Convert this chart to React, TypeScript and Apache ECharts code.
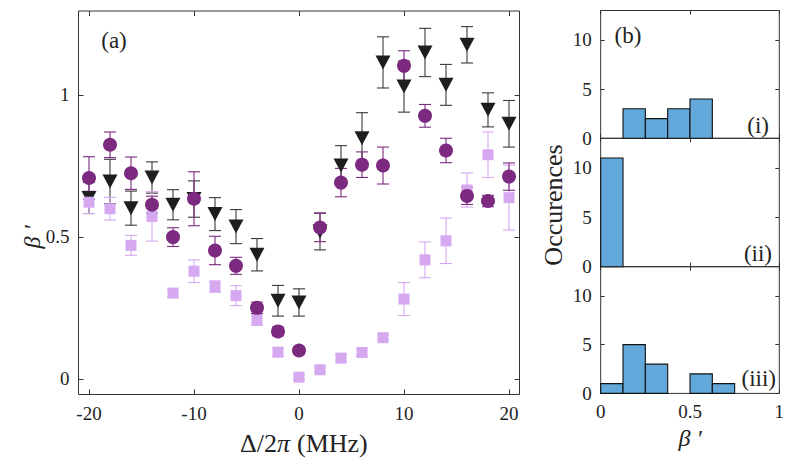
import React, { useEffect, useRef } from "react";
import * as echarts from "echarts";

// ---- Data: panel (a) ----
const detuning = [-20, -18, -16, -14, -12, -10, -8, -6, -4, -2, 0, 2, 4, 6, 8, 10, 12, 14, 16, 18, 20];
const circleVals = [0.707, 0.824, 0.724, 0.613, 0.499, 0.634, 0.452, 0.398, 0.25, 0.167, 0.1, 0.533, 0.691, 0.754, 0.751, 1.102, 0.926, 0.804, 0.644, 0.626, 0.712];
const circleErr = [0.075, 0.045, 0.057, 0.03, 0.033, 0.095, 0.05, 0.03, 0.02, 0.015, 0.012, 0.05, 0.05, 0.045, 0.065, 0.053, 0.04, 0.043, 0.03, 0.02, 0.048];
const triangleVals = [0.637, 0.695, 0.601, 0.709, 0.613, 0.633, 0.58, 0.536, 0.437, 0.275, 0.269, 0.519, 0.751, 0.847, 1.114, 1.029, 1.149, 1.035, 1.176, 0.947, 0.898];
const triangleErr = [0.055, 0.078, 0.06, 0.055, 0.053, 0.064, 0.058, 0.06, 0.057, 0.054, 0.048, 0.065, 0.07, 0.09, 0.09, 0.09, 0.085, 0.072, 0.064, 0.06, 0.082];
const squareVals = [0.622, 0.599, 0.47, 0.572, 0.302, 0.379, 0.325, 0.293, 0.208, 0.094, 0.006, 0.032, 0.073, 0.093, 0.145, 0.281, 0.419, 0.486, 0.665, 0.789, 0.638];
const squareErr = [0.04, 0.04, 0.035, 0.087, 0.015, 0.04, 0.02, 0.035, 0.02, 0.015, 0.01, 0.01, 0.012, 0.012, 0.01, 0.058, 0.063, 0.08, 0.06, 0.08, 0.114];
const xTicksA = [-20, -10, 0, 10, 20];
const yTicksA = [0, 0.5, 1];

// ---- Data: panel (b) histograms ----
const binEdges = [0, 0.125, 0.25, 0.375, 0.5, 0.625, 0.75, 0.875, 1];
const countsI = [0, 3, 2, 3, 4, 0, 0, 0];
const countsII = [11, 0, 0, 0, 0, 0, 0, 0];
const countsIII = [1, 5, 3, 0, 2, 1, 0, 0];
const xTicksB = [0, 0.5, 1];
const yTicksB = [0, 5, 10];

const FONT = "'Liberation Serif', 'Times New Roman', serif";
const AXIS_COLOR = "#333333";
const TEXT_COLOR = "#222222";

const C_CIRCLE = "#7B2A80";
const C_SQUARE = "#D5A8F0";
const C_TRI = "#1E1E1E";
const C_TRI_ERR = "#3A3A3A";
const C_HIST = "#62A8DA";

function axis(kind: "x" | "y", gridIndex: number, position: string, min: number, max: number, ticks: number[], showLabels: boolean, tickLen: number) {
  return {
    type: "value",
    gridIndex,
    position,
    min,
    max,
    axisLine: { show: false, onZero: false },
    splitLine: { show: false },
    axisTick: { show: true, inside: true, length: tickLen, customValues: ticks, lineStyle: { color: AXIS_COLOR, width: 1 } },
    axisLabel: {
      show: showLabels,
      customValues: ticks,
      formatter: (v: number) => String(v),
      color: TEXT_COLOR,
      fontFamily: FONT,
      fontSize: 19,
      margin: 9,
    },
  };
}

function errData(vals: number[], errs: number[]) {
  return detuning.map((d, i) => [d, vals[i], errs[i]]);
}

function errSeries(vals: number[], errs: number[], color: string) {
  return {
    type: "custom",
    xAxisIndex: 0,
    yAxisIndex: 0,
    data: errData(vals, errs),
    encode: { x: 0, y: 1 },
    renderItem: (params: any, api: any) => {
      const x = api.value(0);
      const y = api.value(1);
      const e = api.value(2);
      const top = api.coord([x, y + e]);
      const bot = api.coord([x, y - e]);
      const hw = 6;
      const st = { stroke: color, lineWidth: 1.1 };
      return {
        type: "group",
        children: [
          { type: "line", shape: { x1: top[0], y1: top[1], x2: bot[0], y2: bot[1] }, style: st },
          { type: "line", shape: { x1: top[0] - hw, y1: top[1], x2: top[0] + hw, y2: top[1] }, style: st },
          { type: "line", shape: { x1: bot[0] - hw, y1: bot[1], x2: bot[0] + hw, y2: bot[1] }, style: st },
        ],
      };
    },
  };
}

function histSeries(counts: number[], idx: number) {
  const data: number[][] = [];
  counts.forEach((c, i) => {
    if (c > 0) data.push([binEdges[i], binEdges[i + 1], c]);
  });
  return {
    type: "custom",
    xAxisIndex: idx,
    yAxisIndex: idx,
    data,
    encode: { x: [0, 1], y: 2 },
    renderItem: (params: any, api: any) => {
      const p0 = api.coord([api.value(0), api.value(2)]);
      const p1 = api.coord([api.value(1), 0]);
      return {
        type: "rect",
        shape: { x: p0[0], y: p0[1], width: p1[0] - p0[0], height: p1[1] - p0[1] },
        style: { fill: C_HIST, stroke: "#111111", lineWidth: 1.1 },
      };
    },
  };
}

const gridA = { left: 78.5, top: 11, width: 441, height: 383.5 };
const histLeft = 600.7;
const histWidth = 178.6;
const gridsB = [
  { left: histLeft, top: 10.5, width: histWidth, height: 127.8 },
  { left: histLeft, top: 138.3, width: histWidth, height: 128.4 },
  { left: histLeft, top: 266.7, width: histWidth, height: 126.7 },
];

function text(t: string, x: number, y: number, size: number, opts: any = {}) {
  return {
    type: "text",
    x,
    y,
    rotation: opts.rotation || 0,
    style: {
      text: t,
      fontFamily: FONT,
      fontSize: size,
      fontStyle: opts.italic ? "italic" : "normal",
      fill: TEXT_COLOR,
      textAlign: opts.align || "center",
      textVerticalAlign: "middle",
    },
  };
}

export default function App() {
  const ref = useRef<HTMLDivElement>(null);
  useEffect(() => {
    const chart = echarts.init(ref.current as HTMLDivElement, null, { renderer: "svg" });
    const grids = [gridA, ...gridsB].map((g) => ({
      ...g,
      show: true,
      borderColor: AXIS_COLOR,
      borderWidth: 1,
      backgroundColor: "transparent",
      containLabel: false,
    }));
    const xAxes: any[] = [
      axis("x", 0, "bottom", -21, 21, xTicksA, true, 5),
      axis("x", 0, "top", -21, 21, xTicksA, false, 5),
    ];
    const yAxes: any[] = [
      axis("y", 0, "left", -0.055, 1.295, yTicksA, true, 5),
      axis("y", 0, "right", -0.055, 1.295, yTicksA, false, 5),
    ];
    // bottom/left axes of histogram panels: indices 2,3,4
    for (let k = 0; k < 3; k++) {
      xAxes.push(axis("x", k + 1, "bottom", 0, 1, xTicksB, k === 2, 4));
      yAxes.push(axis("y", k + 1, "left", 0, 13, yTicksB, true, 4));
    }
    // mirrored top/right axes: indices 5,6,7
    for (let k = 0; k < 3; k++) {
      xAxes.push(axis("x", k + 1, "top", 0, 1, xTicksB, false, 4));
      yAxes.push(axis("y", k + 1, "right", 0, 13, yTicksB, false, 4));
    }

    const option: any = {
      animation: false,
      backgroundColor: "#ffffff",
      grid: grids,
      xAxis: xAxes,
      yAxis: yAxes,
      series: [
        errSeries(triangleVals, triangleErr, C_TRI_ERR),
        {
          type: "scatter",
          xAxisIndex: 0,
          yAxisIndex: 0,
          symbol: "triangle",
          symbolRotate: 180,
          symbolSize: [15, 14],
          itemStyle: { color: C_TRI, opacity: 1 },
          data: detuning.map((d, i) => [d, triangleVals[i]]),
        },
        errSeries(squareVals, squareErr, C_SQUARE),
        {
          type: "scatter",
          xAxisIndex: 0,
          yAxisIndex: 0,
          symbol: "rect",
          symbolSize: 11,
          itemStyle: { color: C_SQUARE, opacity: 1 },
          data: detuning.map((d, i) => [d, squareVals[i]]),
        },
        errSeries(circleVals, circleErr, C_CIRCLE),
        {
          type: "scatter",
          xAxisIndex: 0,
          yAxisIndex: 0,
          symbol: "circle",
          symbolSize: 14,
          itemStyle: { color: C_CIRCLE, opacity: 1 },
          data: detuning.map((d, i) => [d, circleVals[i]]),
        },
        histSeries(countsI, 2),
        histSeries(countsII, 3),
        histSeries(countsIII, 4),
      ],
      graphic: [
        text("(a)", 114, 40, 23),
        text("(b)", 628, 35, 23),
        text("(i)", 769, 125, 23, { align: "right" }),
        text("(ii)", 772, 253, 23, { align: "right" }),
        text("(iii)", 776, 378, 23, { align: "right" }),
        text("Occurences", 553, 205, 26, { rotation: Math.PI / 2 }),
        text("β '", 32, 237, 24, { rotation: Math.PI / 2, italic: true }),
        text("β '", 690, 438, 24, { italic: true }),
        text("Δ/2", 277, 443, 26, { align: "right" }),
        text("π", 277, 443, 26, { align: "left", italic: true }),
        text("(MHz)", 297, 443, 26, { align: "left" }),
      ],
    };
    chart.setOption(option);
    return () => chart.dispose();
  }, []);
  return <div ref={ref} style={{ position: "absolute", left: 0, top: 0, width: 791, height: 464 }} />;
}
